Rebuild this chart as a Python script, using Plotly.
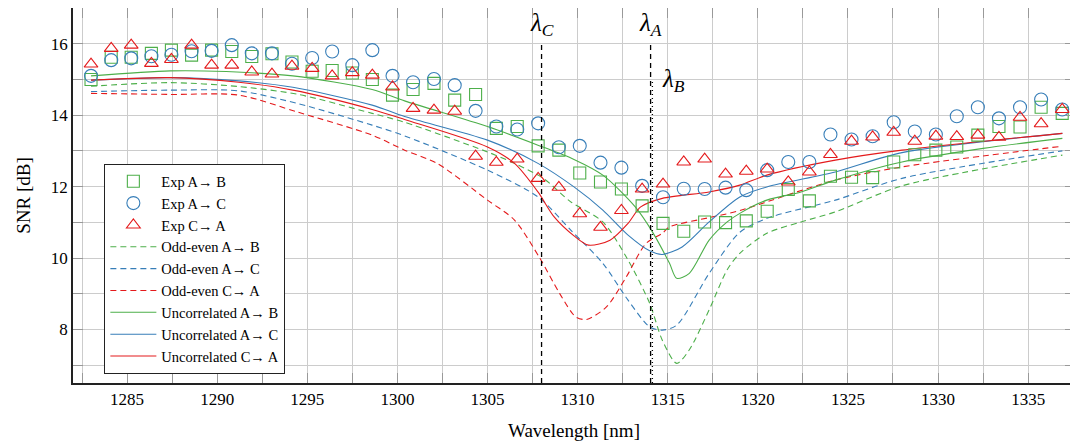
import plotly.graph_objects as go

# measured points (wavelength in nm)
wl_exp = [1283.00, 1284.12, 1285.23, 1286.35, 1287.46, 1288.58, 1289.69, 1290.81,
          1291.92, 1293.04, 1294.15, 1295.27, 1296.38, 1297.50, 1298.61, 1299.73,
          1300.87, 1302.03, 1303.18, 1304.34, 1305.49, 1306.65, 1307.81, 1308.96,
          1310.12, 1311.27, 1312.43, 1313.58, 1314.74, 1315.89, 1317.05, 1318.21,
          1319.36, 1320.52, 1321.69, 1322.86, 1324.03, 1325.20, 1326.37, 1327.54,
          1328.71, 1329.88, 1331.04, 1332.21, 1333.38, 1334.55, 1335.72, 1336.89]

exp_ab = [15.00, 15.62, 15.62, 15.73, 15.82, 15.68, 15.82, 15.78, 15.64, 15.72, 15.49, 15.23,
          15.25, 15.18, 15.00, 14.56, 14.72, 14.89, 14.42, 14.58, 13.63, 13.68, 13.14, 13.02,
          12.38, 12.13, 11.93, 11.46, 10.97, 10.75, 11.01, 10.99, 11.04, 11.31, 11.92, 11.60,
          12.29, 12.26, 12.25, 12.69, 12.89, 13.02, 13.11, 13.44, 13.68, 13.67, 14.22, 14.05]
exp_ac = [15.10, 15.54, 15.59, 15.65, 15.69, 15.79, 15.80, 15.96, 15.73, 15.73, 15.44, 15.60,
          15.78, 15.40, 15.82, 15.10, 14.92, 15.01, 14.84, 14.12, 13.68, 13.60, 13.77, 13.10,
          13.14, 12.67, 12.53, 12.02, 11.70, 11.94, 11.93, 11.97, 11.90, 12.46, 12.69, 12.69,
          13.46, 13.32, 13.41, 13.80, 13.54, 13.46, 13.97, 14.22, 13.91, 14.22, 14.44, 14.16]
exp_ca = [15.43, 15.87, 15.96, 15.45, 15.56, 15.96, 15.40, 15.40, 15.21, 15.15, 15.37, 15.31,
          15.10, 15.19, 15.12, 14.79, 14.19, 14.14, 14.11, 12.85, 12.68, 12.77, 12.23, 11.98,
          11.24, 10.86, 11.33, 11.93, 12.07, 12.69, 12.77, 12.35, 12.43, 12.49, 12.13, 12.41,
          12.90, 13.27, 13.39, 13.52, 13.27, 13.41, 13.40, 13.44, 13.38, 13.94, 13.76, 14.16]

# model curves
wl_oe_ab = [1283.0, 1287.4, 1291.2, 1294.5, 1298.6, 1300.4, 1305.0, 1306.5, 1308.1, 1309.6,
            1311.4, 1312.8, 1314.0, 1314.7, 1315.5, 1316.2, 1317.3, 1318.3, 1319.0, 1320.5,
            1322.4, 1324.3, 1328.0, 1336.9]
oe_ab = [14.81, 14.91, 14.80, 14.58, 14.05, 13.80, 12.97, 12.65, 12.23, 11.58,
         11.01, 9.94, 8.73, 7.70, 7.05, 7.43, 8.55, 9.67, 10.13, 10.69,
         11.01, 11.29, 12.02, 12.88]

wl_oe_ac = [1283.0, 1287.4, 1291.2, 1294.5, 1298.6, 1300.4, 1305.0, 1307.8, 1309.7, 1311.4,
            1312.8, 1314.0, 1314.7, 1315.5, 1317.3, 1319.0, 1320.5, 1324.3, 1328.0, 1336.9]
oe_ac = [14.66, 14.70, 14.68, 14.32, 13.72, 13.42, 12.46, 11.71, 10.74, 9.85,
         8.82, 8.07, 7.98, 8.12, 9.57, 10.72, 11.11, 11.62, 12.23, 13.00]

wl_oe_ca = [1283.0, 1287.4, 1291.2, 1294.5, 1298.6, 1300.4, 1302.2, 1305.0, 1306.5, 1307.9,
            1309.0, 1309.9, 1310.5, 1311.6, 1312.7, 1313.8, 1314.7, 1315.1, 1317.3, 1318.8,
            1324.3, 1328.0, 1336.9]
oe_ca = [14.61, 14.58, 14.56, 14.08, 13.44, 13.02, 12.65, 11.62, 11.06, 10.0,
         9.01, 8.35, 8.28, 8.63, 9.47, 10.41, 10.69, 10.87, 11.13, 11.30,
         12.18, 12.55, 13.13]

wl_un_ab = [1283.0, 1287.4, 1290.5, 1294.2, 1298.6, 1300.4, 1305.0, 1307.8, 1309.8, 1311.4,
            1313.2, 1314.2, 1315.1, 1315.5, 1316.2, 1317.3, 1318.3, 1319.0, 1320.5, 1322.4,
            1324.3, 1328.0, 1332.5, 1336.9]
un_ab = [15.10, 15.24, 15.22, 15.10, 14.72, 14.40, 13.68, 13.16, 12.76, 12.32,
         11.43, 10.69, 9.85, 9.43, 9.57, 10.50, 11.01, 11.25, 11.62, 11.85,
         12.18, 12.69, 13.07, 13.35]

wl_un_ac = [1283.0, 1287.4, 1291.2, 1294.2, 1298.6, 1300.4, 1305.0, 1307.8, 1309.8, 1311.4,
            1312.8, 1314.0, 1314.7, 1315.8, 1317.3, 1319.0, 1320.5, 1324.3, 1328.0, 1336.9]
un_ac = [14.98, 15.05, 14.96, 14.78, 14.28, 13.96, 13.30, 12.65, 11.99, 11.34,
         10.64, 10.20, 10.10, 10.31, 11.01, 11.71, 11.99, 12.41, 12.95, 13.49]

wl_un_ca = [1283.0, 1287.4, 1291.2, 1294.2, 1298.6, 1300.4, 1305.0, 1306.5, 1307.8, 1308.7,
            1309.8, 1310.6, 1311.8, 1312.8, 1313.5, 1314.7, 1317.3, 1319.0, 1320.5, 1324.3,
            1328.0, 1336.9]
un_ca = [14.98, 15.05, 14.92, 14.70, 14.16, 13.88, 13.11, 12.65, 11.85, 11.15,
         10.62, 10.36, 10.50, 10.97, 11.43, 11.67, 11.85, 12.04, 12.32, 12.74,
         13.02, 13.49]

lam_c = 1308.0
lam_a = 1314.05
lam_b = 1314.15

GREEN = "rgb(77,175,74)"
BLUE = "rgb(55,126,184)"
RED = "rgb(228,26,28)"
FONT = "Times New Roman, Liberation Serif, DejaVu Serif, serif"

fig = go.Figure()

curves = [
    (wl_oe_ab, oe_ab, GREEN, "dash", "Odd-even A\u2192 B", 4),
    (wl_oe_ac, oe_ac, BLUE, "dash", "Odd-even A\u2192 C", 5),
    (wl_oe_ca, oe_ca, RED, "dash", "Odd-even C\u2192 A", 6),
    (wl_un_ab, un_ab, GREEN, "solid", "Uncorrelated A\u2192 B", 7),
    (wl_un_ac, un_ac, BLUE, "solid", "Uncorrelated A\u2192 C", 8),
    (wl_un_ca, un_ca, RED, "solid", "Uncorrelated C\u2192 A", 9),
]
for xs, ys, col, dash, name, rank in curves:
    fig.add_trace(go.Scatter(
        x=xs, y=ys, mode="lines", name=name, legendrank=rank,
        line=dict(color=col, width=1.1, dash="6px,4px" if dash == "dash" else "solid",
                  shape="spline", smoothing=0.8)))

exps = [
    (exp_ab, GREEN, "square-open", 12, "Exp A\u2192 B", 1),
    (exp_ac, BLUE, "circle-open", 13, "Exp A\u2192 C", 2),
    (exp_ca, RED, "triangle-up-open", 12, "Exp C\u2192 A", 3),
]
for ys, col, sym, sz, name, rank in exps:
    fig.add_trace(go.Scatter(
        x=wl_exp, y=ys, mode="markers", name=name, legendrank=rank,
        marker=dict(symbol=sym, size=sz, color=col, line=dict(color=col, width=1.1))))

# marker wavelengths
fig.add_shape(type="line", x0=lam_c, x1=lam_c, y0=6.5, y1=16, line=dict(color="black", width=1.3, dash="5px,4px"))
fig.add_shape(type="line", x0=lam_a, x1=lam_a, y0=6.5, y1=16, line=dict(color="black", width=1.3, dash="5px,4px"))
fig.add_shape(type="line", x0=lam_b, x1=lam_b, y0=6.5, y1=15, line=dict(color="black", width=1.3, dash="1px,3px"))

lab_font = dict(family=FONT, size=25, color="black")
fig.add_annotation(x=lam_c, y=16.53, text="<i>\u03bb<sub>C</sub></i>", showarrow=False, font=lab_font)
fig.add_annotation(x=lam_a, y=16.53, text="<i>\u03bb<sub>A</sub></i>", showarrow=False, font=lab_font)
fig.add_annotation(x=1315.3, y=14.96, text="<i>\u03bb<sub>B</sub></i>", showarrow=False, font=lab_font)

axis_common = dict(
    showline=True, linecolor="#222", linewidth=1.8, mirror="allticks",
    showgrid=True, gridcolor="#cccccc", gridwidth=1,
    ticks="inside", ticklen=10, tickcolor="#999", tickwidth=1,
    zeroline=False, automargin=False,
    tickfont=dict(family=FONT, size=17, color="black"),
)

fig.update_xaxes(
    range=[1282, 1337.6], dtick=5, tick0=1285,
    minor=dict(dtick=2.5, showgrid=True, gridcolor="#cccccc", ticks="inside", ticklen=10, tickcolor="#999"),
    title=dict(text="Wavelength [nm]", font=dict(family=FONT, size=19, color="black")),
    **axis_common)
fig.update_yaxes(
    range=[6.5, 17], dtick=2, tick0=8,
    minor=dict(dtick=1, showgrid=True, gridcolor="#cccccc", ticks="inside", ticklen=10, tickcolor="#999"),
    title=dict(text="SNR [dB]", font=dict(family=FONT, size=19, color="black")),
    **axis_common)

# the page body adds an 8px offset, so the figure is sized to compensate
fig.update_layout(
    width=1070, height=433,
    margin=dict(l=65, r=3, t=0, b=58, autoexpand=False),
    paper_bgcolor="white", plot_bgcolor="white",
    font=dict(family=FONT, size=14, color="black"),
    legend=dict(x=0.031, y=0.584, xanchor="left", yanchor="top",
                bgcolor="white", bordercolor="#222", borderwidth=1.3,
                font=dict(family=FONT, size=14.5, color="black"),
                itemwidth=46, tracegroupgap=0),
    showlegend=True,
)

fig.write_html("out.html")
